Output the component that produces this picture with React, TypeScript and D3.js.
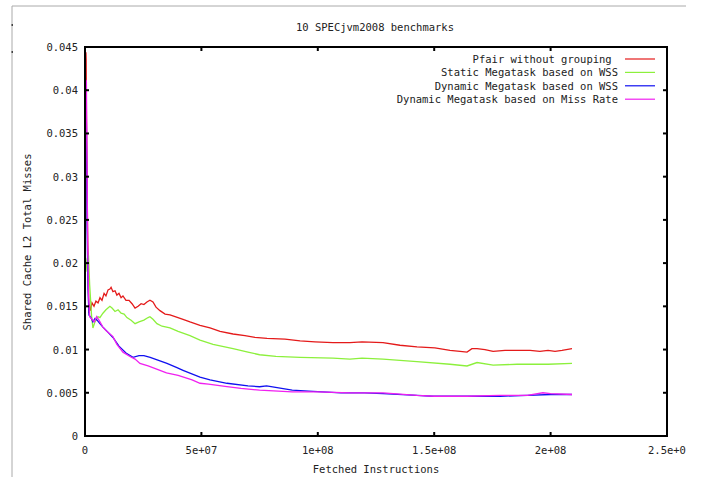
import { useMemo } from "react";
import * as d3 from "d3";

const W = 701;
const H = 477;
const MARGIN = { top: 47, right: 34, bottom: 41, left: 85 };
const FONT = "'DejaVu Sans Mono', monospace";

const TITLE = "10 SPECjvm2008 benchmarks";
const X_LABEL = "Fetched Instructions";
const Y_LABEL = "Shared Cache L2 Total Misses";

const xTicks = [0, 5e7, 1e8, 1.5e8, 2e8, 2.5e8];
const xTickLabels = ["0", "5e+07", "1e+08", "1.5e+08", "2e+08", "2.5e+0"];
const yTicks = [0, 0.005, 0.01, 0.015, 0.02, 0.025, 0.03, 0.035, 0.04, 0.045];
const yTickLabels = ["0", "0.005", "0.01", "0.015", "0.02", "0.025", "0.03", "0.035", "0.04", "0.045"];

const seriesNames = [
  "Pfair without grouping ",
  "Static Megatask based on WSS",
  "Dynamic Megatask based on WSS",
  "Dynamic Megatask based on Miss Rate",
];
const seriesColors = ["#e41a1a", "#8cf03c", "#1010f0", "#f020f0"];

// [instructions, misses]
const pfair: [number, number][] = [
  [0.4e6, 0.0444], [0.5e6, 0.0435], [0.6e6, 0.0377], [0.86e6, 0.0308], [1.07e6, 0.0246],
  [1.37e6, 0.0192], [1.63e6, 0.0142], [1.93e6, 0.0152], [2.36e6, 0.0145], [3.0e6, 0.0154],
  [3.87e6, 0.015], [4.7e6, 0.0156], [5.6e6, 0.0154], [6.44e6, 0.016], [7.3e6, 0.0157],
  [8.2e6, 0.0165], [9.0e6, 0.0162], [9.9e6, 0.0169], [10.7e6, 0.017], [11.2e6, 0.0172],
  [12.0e6, 0.0167], [12.9e6, 0.0168], [13.7e6, 0.0163], [14.6e6, 0.0165], [15.5e6, 0.016],
  [16.3e6, 0.0162], [17.6e6, 0.0157], [18.9e6, 0.0157], [20.2e6, 0.0153], [21.5e6, 0.0148],
  [22.8e6, 0.015], [24.1e6, 0.0153], [25.3e6, 0.0152], [26.6e6, 0.0155], [27.9e6, 0.0157],
  [29.2e6, 0.0155], [30.5e6, 0.0149], [32.2e6, 0.0145], [34.4e6, 0.0141], [36.5e6, 0.014],
  [38.7e6, 0.0138], [42.1e6, 0.0135], [45.1e6, 0.0132], [49.4e6, 0.0128], [53.7e6, 0.0125],
  [58.0e6, 0.0121], [63.6e6, 0.0118], [68.7e6, 0.0116], [73.0e6, 0.0114], [78.2e6, 0.0113],
  [85.9e6, 0.0112], [92.4e6, 0.011], [98.8e6, 0.0109], [106.5e6, 0.0108], [113.8e6, 0.0108],
  [119.0e6, 0.0109], [128.0e6, 0.0108], [135.3e6, 0.0105], [142.6e6, 0.0103], [150.3e6, 0.0102],
  [156.8e6, 0.0099], [161.1e6, 0.0098], [164.1e6, 0.0097], [166.2e6, 0.0101], [168.4e6, 0.0101],
  [171.8e6, 0.01], [175.3e6, 0.0098], [180.4e6, 0.0099], [185.6e6, 0.0099], [191.2e6, 0.0099],
  [195.4e6, 0.0098], [198.9e6, 0.0099], [201.9e6, 0.0098], [204.9e6, 0.0099], [209.2e6, 0.0101],
];

const staticWss: [number, number][] = [
  [0.4e6, 0.019], [0.9e6, 0.0205], [1.5e6, 0.0209], [2.0e6, 0.0175], [2.8e6, 0.014],
  [3.4e6, 0.0125], [4.3e6, 0.0132], [5.6e6, 0.0138], [6.4e6, 0.0137], [7.7e6, 0.0142],
  [9.0e6, 0.0146], [10.7e6, 0.015], [11.6e6, 0.0148], [12.9e6, 0.0144], [14.2e6, 0.0146],
  [15.5e6, 0.0142], [16.8e6, 0.0141], [18.0e6, 0.0137], [19.8e6, 0.0134], [21.5e6, 0.013],
  [23.2e6, 0.0132], [25.3e6, 0.0134], [27.1e6, 0.0137], [27.9e6, 0.0138], [29.2e6, 0.0135],
  [30.9e6, 0.013], [33.1e6, 0.0127], [36.5e6, 0.0125], [40.0e6, 0.0121], [45.1e6, 0.0116],
  [49.4e6, 0.0111], [55.0e6, 0.0106], [63.6e6, 0.0101], [70.0e6, 0.0097], [75.0e6, 0.0094],
  [82.0e6, 0.0092], [92.4e6, 0.0091], [106.5e6, 0.009], [113.8e6, 0.0089], [119.0e6, 0.009],
  [128.0e6, 0.0089], [142.6e6, 0.0086], [156.8e6, 0.0083], [164.1e6, 0.0081], [168.4e6, 0.0085],
  [175.3e6, 0.0082], [185.6e6, 0.0083], [198.9e6, 0.0083], [209.2e6, 0.0084],
];

const dynamicWss: [number, number][] = [
  [0.4e6, 0.0405], [0.6e6, 0.036], [0.9e6, 0.024], [1.3e6, 0.017], [1.7e6, 0.014],
  [2.5e6, 0.0137], [3.4e6, 0.0132], [4.3e6, 0.0136], [5.2e6, 0.0134], [6.4e6, 0.013],
  [7.7e6, 0.0126], [9.5e6, 0.0121], [12.0e6, 0.0114], [14.6e6, 0.0104], [17.6e6, 0.0096],
  [20.6e6, 0.0091], [23.2e6, 0.0093], [25.3e6, 0.0093], [28.0e6, 0.0091], [31.0e6, 0.0088],
  [35.2e6, 0.0084], [39.5e6, 0.0079], [42.1e6, 0.0076], [49.4e6, 0.0068], [53.7e6, 0.0065],
  [61.0e6, 0.0061], [70.0e6, 0.0058], [75.0e6, 0.0057], [78.0e6, 0.0058], [89.0e6, 0.0053],
  [96.0e6, 0.0052], [110.0e6, 0.005], [120.0e6, 0.005], [128.0e6, 0.0049], [142.6e6, 0.0047],
  [149.5e6, 0.0046], [164.1e6, 0.0046], [178.3e6, 0.0046], [190.0e6, 0.0047], [200.0e6, 0.0048],
  [209.2e6, 0.0048],
];

const dynamicMiss: [number, number][] = [
  [0.4e6, 0.0412], [0.6e6, 0.041], [0.9e6, 0.03], [1.2e6, 0.021], [1.5e6, 0.0165],
  [2.0e6, 0.0138], [3.0e6, 0.0135], [4.0e6, 0.0132], [5.0e6, 0.0138], [6.0e6, 0.0134],
  [7.7e6, 0.0126], [9.0e6, 0.0122], [12.0e6, 0.0115], [13.7e6, 0.0106], [16.3e6, 0.0097],
  [19.3e6, 0.0092], [21.5e6, 0.0089], [23.6e6, 0.0084], [27.1e6, 0.0081], [32.2e6, 0.0076],
  [35.0e6, 0.0073], [40.0e6, 0.007], [46.0e6, 0.0065], [49.4e6, 0.0061], [53.0e6, 0.006],
  [61.0e6, 0.0057], [67.0e6, 0.0055], [75.0e6, 0.0053], [89.0e6, 0.0051], [100.0e6, 0.0051],
  [113.8e6, 0.005], [128.0e6, 0.005], [142.6e6, 0.0047], [150.0e6, 0.0046], [164.1e6, 0.0046],
  [178.3e6, 0.0047], [190.0e6, 0.0047], [196.7e6, 0.005], [200.0e6, 0.0049], [209.2e6, 0.0048],
];

const allSeries = [pfair, staticWss, dynamicWss, dynamicMiss];

export default function App() {
  const boundsWidth = W - MARGIN.left - MARGIN.right;
  const boundsHeight = H - MARGIN.top - MARGIN.bottom;

  const xScale = useMemo(() => d3.scaleLinear().domain([0, 2.5e8]).range([0, boundsWidth]), [boundsWidth]);
  const yScale = useMemo(() => d3.scaleLinear().domain([0, 0.045]).range([boundsHeight, 0]), [boundsHeight]);

  const lineGen = d3
    .line<[number, number]>()
    .x((d) => xScale(d[0]))
    .y((d) => yScale(d[1]));

  const TICK = 4;

  return (
    <svg width={W} height={H} style={{ position: "absolute", left: 0, top: 0, background: "#fff" }}>
      {/* outer window frame */}
      <line x1={12} x2={686} y1={6} y2={6} stroke="#aaa" strokeWidth={1} />
      <line x1={12} x2={12} y1={6} y2={H} stroke="#aaa" strokeWidth={1} />
      <rect x={11.5} y={24} width={1.5} height={2} fill="#444" />
      <rect x={11.5} y={51} width={1.5} height={2} fill="#444" />

      <text x={375} y={31} textAnchor="middle" fontFamily={FONT} fontSize={10.5} fill="#222">
        {TITLE}
      </text>

      <g transform={`translate(${MARGIN.left},${MARGIN.top})`}>
        {/* series */}
        {allSeries.map((s, i) => (
          <path key={i} d={lineGen(s) ?? ""} fill="none" stroke={seriesColors[i]} strokeWidth={1.3} />
        ))}

        {/* ticks, mirrored on all sides */}
        {yTicks.map((t, i) => (
          <g key={"y" + i}>
            <line x1={0} x2={TICK} y1={yScale(t)} y2={yScale(t)} stroke="#000" strokeWidth={2} />
            <line x1={boundsWidth - TICK} x2={boundsWidth} y1={yScale(t)} y2={yScale(t)} stroke="#000" strokeWidth={2} />
            <text
              x={-7}
              y={yScale(t) + 4}
              textAnchor="end"
              fontFamily={FONT}
              fontSize={10.5}
              fill="#222"
            >
              {yTickLabels[i]}
            </text>
          </g>
        ))}
        {xTicks.map((t, i) => (
          <g key={"x" + i}>
            <line x1={xScale(t)} x2={xScale(t)} y1={boundsHeight} y2={boundsHeight - TICK} stroke="#000" strokeWidth={2} />
            <line x1={xScale(t)} x2={xScale(t)} y1={0} y2={TICK} stroke="#000" strokeWidth={2} />
            <text
              x={i === xTicks.length - 1 ? xScale(t) - 19 : xScale(t)}
              y={boundsHeight + 18}
              textAnchor={i === xTicks.length - 1 ? "start" : "middle"}
              fontFamily={FONT}
              fontSize={10.5}
              fill="#222"
            >
              {xTickLabels[i]}
            </text>
          </g>
        ))}

        {/* border */}
        <rect x={0} y={0} width={boundsWidth} height={boundsHeight} fill="none" stroke="#000" strokeWidth={2} />

        {/* legend */}
        {seriesNames.map((name, i) => {
          const cy = 12 + i * 13.4;
          return (
            <g key={"leg" + i}>
              <text
                x={533}
                y={cy + 4}
                textAnchor="end"
                fontFamily={FONT}
                fontSize={10.5}
                fill="#222"
                style={{ whiteSpace: "pre" }}
              >
                {name}
              </text>
              <line x1={540} x2={570} y1={cy} y2={cy} stroke={seriesColors[i]} strokeWidth={1.2} />
            </g>
          );
        })}
      </g>

      <text x={376} y={473} textAnchor="middle" fontFamily={FONT} fontSize={10.5} fill="#222">
        {X_LABEL}
      </text>
      <text
        transform={`translate(31,242) rotate(-90)`}
        textAnchor="middle"
        fontFamily={FONT}
        fontSize={10.5}
        fill="#222"
      >
        {Y_LABEL}
      </text>
    </svg>
  );
}
